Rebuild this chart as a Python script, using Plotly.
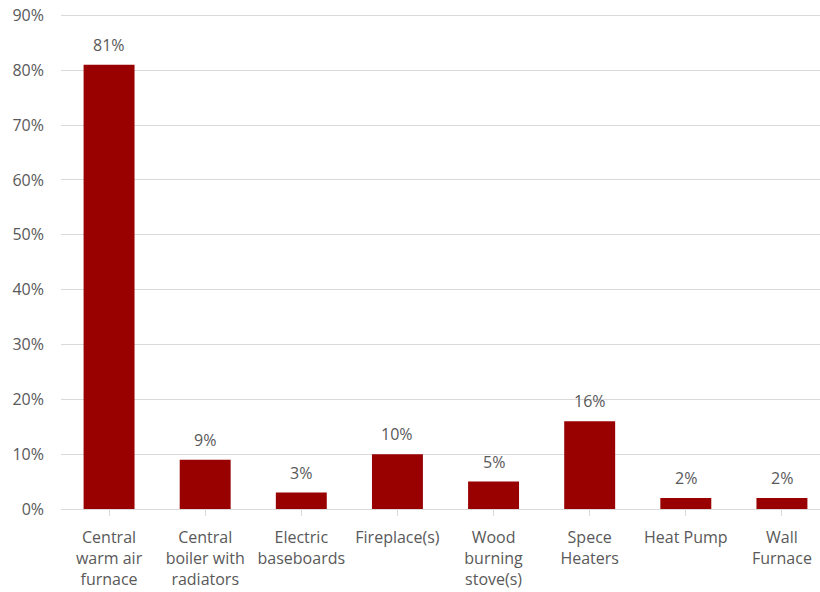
import plotly.graph_objects as go

# Heating system categories and share of homes using each
categories = [
    "Central<br>warm air<br>furnace",
    "Central<br>boiler with<br>radiators",
    "Electric<br>baseboards",
    "Fireplace(s)",
    "Wood<br>burning<br>stove(s)",
    "Spece<br>Heaters",
    "Heat Pump",
    "Wall<br>Furnace",
]
shares = [0.81, 0.09, 0.03, 0.10, 0.05, 0.16, 0.02, 0.02]
y_ticks = [0, 0.1, 0.2, 0.3, 0.4, 0.5, 0.6, 0.7, 0.8, 0.9]

BAR_COLOR = "#990000"
TEXT_COLOR = "#595959"
GRID_COLOR = "#d9d9d9"
FONT = "Open Sans, Noto Sans, sans-serif"

x_pos = list(range(len(categories)))

fig = go.Figure(
    go.Bar(
        x=x_pos,
        y=shares,
        width=0.53,
        marker=dict(color=BAR_COLOR, line=dict(width=0)),
        hoverinfo="skip",
    )
)

for xi, v in zip(x_pos, shares):
    fig.add_annotation(
        x=xi, y=v, text=f"{v * 100:.0f}%", showarrow=False,
        yanchor="bottom", yshift=7,
        font=dict(family=FONT, size=16, color=TEXT_COLOR),
    )

fig.update_layout(
    width=820,
    height=592,
    margin=dict(l=61, r=0, t=10, b=83),
    paper_bgcolor="white",
    plot_bgcolor="white",
    font=dict(family=FONT, size=16, color=TEXT_COLOR),
    showlegend=False,
    xaxis=dict(
        tickmode="array",
        tickvals=x_pos,
        ticktext=categories,
        range=[-0.5, 7.396],
        showgrid=False,
        showline=True,
        linecolor=GRID_COLOR,
        linewidth=1,
        ticks="outside",
        tickson="boundaries",
        ticklen=6,
        tickcolor=GRID_COLOR,
        ticklabelstandoff=8,
        tickangle=0,
        zeroline=False,
    ),
    yaxis=dict(
        range=[0, 0.91],
        tickvals=y_ticks,
        tickformat=".0%",
        showgrid=True,
        gridcolor=GRID_COLOR,
        gridwidth=1,
        zeroline=False,
        showline=False,
        ticks="",
        ticklabelstandoff=16,
    ),
)

fig.write_html("out.html")
